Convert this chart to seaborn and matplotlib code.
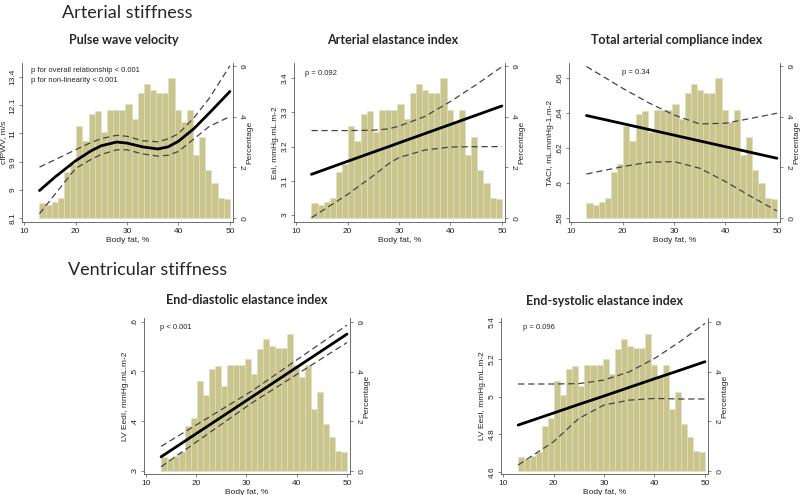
import numpy as np
import pandas as pd
import matplotlib
matplotlib.use('Agg')
import matplotlib.pyplot as plt
import seaborn as sns

sns.set_style('white')
plt.rcParams['font.family'] = ['Liberation Sans', 'DejaVu Sans']

# body fat histogram (percentage of participants per bin), same in every panel
bin_lo, bin_hi, n_bins = 13, 50, 31
pct = [0.58, 0.50, 0.62, 0.78, 1.81, 2.12, 3.63, 3.05, 4.12, 4.22, 3.41,
       4.28, 4.28, 4.28, 4.50, 3.92, 4.93, 5.30, 5.04, 4.95, 4.95, 5.53,
       4.26, 3.78, 4.26, 2.48, 3.19, 1.89, 1.38, 0.80, 0.75]

# pulse wave velocity (m/s)
pwv_x = [13, 16, 20, 23, 25, 28, 30, 33, 36, 38, 40, 43, 46, 50]
pwv_mid = [9.00, 9.44, 10.00, 10.36, 10.55, 10.69, 10.65, 10.51, 10.43, 10.51, 10.72, 11.21, 11.85, 12.79]
pwv_hi = [9.78, 10.04, 10.40, 10.67, 10.82, 10.95, 10.91, 10.74, 10.70, 10.81, 11.01, 11.65, 12.49, 14.01]
pwv_lo = [8.29, 8.88, 9.73, 10.05, 10.23, 10.40, 10.40, 10.25, 10.17, 10.20, 10.34, 10.81, 11.30, 11.70]

# arterial elastance index
eai_x = [13, 20, 25, 28, 30, 35, 40, 45, 50]
eai_mid = [3.119, 3.157, 3.184, 3.200, 3.211, 3.238, 3.265, 3.292, 3.319]
eai_hi = [3.247, 3.247, 3.248, 3.252, 3.260, 3.288, 3.332, 3.381, 3.434]
eai_lo = [2.992, 3.060, 3.115, 3.150, 3.168, 3.190, 3.199, 3.200, 3.200]

# total arterial compliance index
taci_x = [13, 20, 25, 30, 35, 40, 45, 50]
taci_mid = [0.6387, 0.6341, 0.6308, 0.6275, 0.6242, 0.6209, 0.6176, 0.6143]
taci_hi = [0.6667, 0.6543, 0.6461, 0.6390, 0.6339, 0.6343, 0.6371, 0.6400]
taci_lo = [0.6053, 0.6095, 0.6120, 0.6124, 0.6086, 0.6010, 0.5924, 0.5842]

# end-diastolic elastance index
eed_x = [13, 31, 50]
eed_mid = [0.328, 0.448, 0.575]
eed_hi = [0.349, 0.460, 0.593]
eed_lo = [0.308, 0.436, 0.558]

# end-systolic elastance index
ees_x = [13, 20, 25, 30, 35, 40, 45, 50]
ees_mid = [4.849, 4.913, 4.959, 5.004, 5.050, 5.096, 5.141, 5.187]
ees_hi = [5.068, 5.068, 5.070, 5.089, 5.133, 5.204, 5.293, 5.391]
ees_lo = [4.636, 4.760, 4.884, 4.956, 4.982, 4.991, 4.988, 4.988]

W, H = 800, 495
bar_col = '#c9c58d'
ax_col = '#555555'
fs = 5.5

fig = plt.figure(figsize=(8, 4.95), dpi=100)
edges = np.linspace(bin_lo, bin_hi, n_bins + 1)
hist_df = pd.DataFrame({'fat': (edges[:-1] + edges[1:]) / 2, 'pct': pct})


def panel(box, x, mid, hi, lo, ylab, ylim, yticks, ylabels, notes, pct_lim, log=False):
    l, t, r, b = box
    ax_h = fig.add_axes([l / W, 1 - b / H, (r - l) / W, (b - t) / H])
    sns.histplot(data=hist_df, x='fat', weights='pct', bins=n_bins, binrange=(bin_lo, bin_hi),
                 ax=ax_h, color=bar_col, alpha=1, edgecolor='#e2e0c4', linewidth=0.4)
    ax_l = ax_h.twinx()

    lines = pd.DataFrame({'x': x, 'mid': mid, 'hi': hi, 'lo': lo})
    sns.lineplot(data=lines, x='x', y='hi', ax=ax_l, color='#444444', lw=0.9, linestyle=(0, (5, 3)))
    sns.lineplot(data=lines, x='x', y='lo', ax=ax_l, color='#444444', lw=0.9, linestyle=(0, (5, 3)))
    sns.lineplot(data=lines, x='x', y='mid', ax=ax_l, color='black', lw=2.0)

    # histogram scale on the right, outcome scale on the left
    ax_h.yaxis.tick_right()
    ax_h.yaxis.set_label_position('right')
    ax_l.yaxis.tick_left()
    ax_l.yaxis.set_label_position('left')

    ax_h.set_xlim(9.6, 50.6)
    ax_h.set_ylim(*pct_lim)
    ax_h.set_yticks([0, 2, 4, 6])
    ax_h.set_yticklabels(['0', '2', '4', '6'], rotation=270, va='center')
    ax_h.set_ylabel('Percentage', fontsize=fs + 0.5, rotation=90, labelpad=1)
    ax_h.set_xticks([10, 20, 30, 40, 50])

    if log:
        ax_l.set_yscale('log')
        ax_l.yaxis.set_minor_locator(matplotlib.ticker.NullLocator())
    ax_l.set_ylim(*ylim)
    ax_l.set_yticks(yticks)
    ax_l.set_yticklabels(ylabels, rotation=90, va='center')
    ax_l.set_ylabel(ylab, fontsize=fs + 0.5, labelpad=2)
    ax_l.set_xlabel('')

    for a in (ax_h, ax_l):
        a.tick_params(labelsize=fs + 0.5, length=2.5, width=0.5, color=ax_col, pad=1.5)
        for s in a.spines.values():
            s.set_color(ax_col)
            s.set_linewidth(0.6)
        a.spines['top'].set_visible(False)
    ax_h.tick_params(axis='y', pad=1)
    ax_h.spines['left'].set_visible(False)
    ax_l.spines['right'].set_visible(False)
    ax_l.spines['bottom'].set_visible(False)
    ax_h.tick_params(axis='x', bottom=True)
    ax_h.set_xlabel('Body fat, %', fontsize=fs + 0.5, labelpad=1.5)

    for (nx, ny, s) in notes:
        ax_l.text(nx, ny, s, transform=ax_l.transAxes, fontsize=fs, va='center', ha='left')
    return ax_h, ax_l


top_lim = (-0.16, 6.12)
bot_lim = (-0.12, 6.16)

panel((22, 63, 233, 222), pwv_x, pwv_mid, pwv_hi, pwv_lo, 'cfPWV, m/s',
      (8.05, 14.15), [8.17, 9.03, 9.97, 11.02, 12.18, 13.46],
      ['8.1', '9', '9.9', '11', '12.1', '13.4'],
      [(0.043, 0.95, 'p for overall relationship < 0.001'),
       (0.043, 0.887, 'p for non-linearity < 0.001')], top_lim, log=True)

panel((294, 63, 505, 222), eai_x, eai_mid, eai_hi, eai_lo, 'EaI, mmHg.mL.m-2',
      (2.9795, 3.4447), [3.0, 3.1, 3.2, 3.3, 3.4], ['3', '3.1', '3.2', '3.3', '3.4'],
      [(0.052, 0.937, 'p = 0.092')], top_lim)

panel((569, 63, 780, 222), taci_x, taci_mid, taci_hi, taci_lo, 'TACI, mL.mmHg-1.m-2',
      (0.5779, 0.6687), [0.58, 0.60, 0.62, 0.64, 0.66], ['.58', '.6', '.62', '.64', '.66'],
      [(0.25, 0.943, 'p = 0.34')], top_lim)

panel((144, 318, 350, 474), eed_x, eed_mid, eed_hi, eed_lo, 'LV EedI, mmHg.mL.m-2',
      (0.2934, 0.6074), [0.3, 0.4, 0.5, 0.6], ['.3', '.4', '.5', '.6'],
      [(0.079, 0.94, 'p < 0.001')], bot_lim)

panel((501, 318, 708, 474), ees_x, ees_mid, ees_hi, ees_lo, 'LV EesI, mmHg.mL.m-2',
      (4.588, 5.42), [4.6, 4.8, 5.0, 5.2, 5.4], ['4.6', '4.8', '5', '5.2', '5.4'],
      [(0.106, 0.94, 'p = 0.096')], bot_lim)

hfont = ['Lato', 'DejaVu Sans']
fig.text(127 / W, 1 - 13 / H, 'Arterial stiffness', fontsize=13, family=hfont, ha='center', va='center')
fig.text(148 / W, 1 - 270 / H, 'Ventricular stiffness', fontsize=13, family=hfont, ha='center', va='center')
for (cx, cy, s) in [(124, 40, 'Pulse wave velocity'), (393, 40, 'Arterial elastance index'),
                    (677, 40, 'Total arterial compliance index'),
                    (247, 300, 'End-diastolic elastance index'),
                    (605, 301, 'End-systolic elastance index')]:
    fig.text(cx / W, 1 - cy / H, s, fontsize=9, fontweight='bold', family=hfont,
             ha='center', va='center')

fig.savefig('out.png', dpi=100)
